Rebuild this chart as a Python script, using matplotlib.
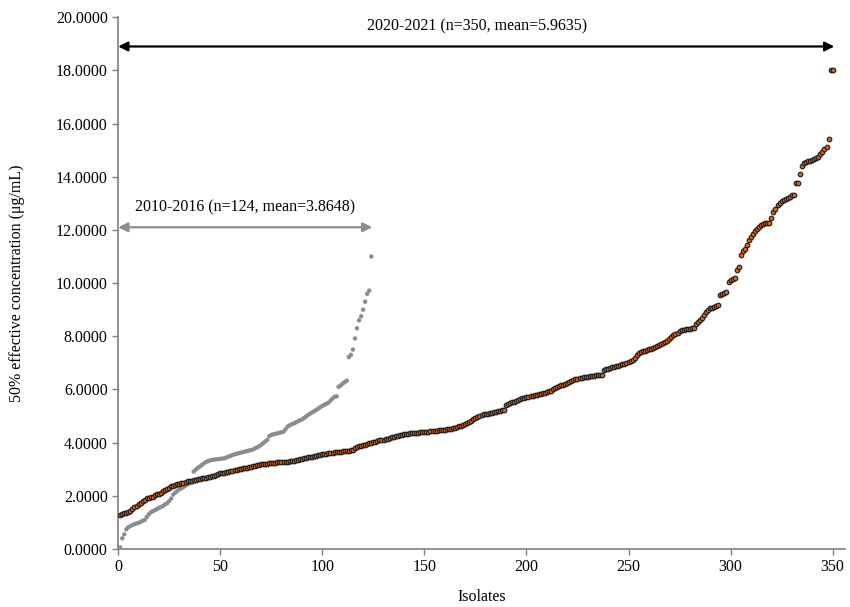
import numpy as np
import matplotlib
matplotlib.use("Agg")
import matplotlib.pyplot as plt
from matplotlib.ticker import FormatStrFormatter

# EC50 values, sorted
ec50_2010_2016 = [
    0.06, 0.40, 0.55, 0.74, 0.82, 0.86, 0.90, 0.94, 0.96, 0.98,
    1.02, 1.06, 1.09, 1.20, 1.30, 1.38, 1.42, 1.46, 1.50, 1.55,
    1.58, 1.62, 1.68, 1.72, 1.80, 1.90, 2.05, 2.12, 2.18, 2.25,
    2.28, 2.33, 2.38, 2.42, 2.47, 2.52, 2.91, 2.98, 3.05, 3.10,
    3.16, 3.22, 3.27, 3.30, 3.33, 3.35, 3.36, 3.37, 3.38, 3.39,
    3.40, 3.41, 3.44, 3.47, 3.50, 3.53, 3.56, 3.58, 3.60, 3.62,
    3.64, 3.66, 3.68, 3.70, 3.72, 3.74, 3.78, 3.82, 3.86, 3.92,
    3.97, 4.04, 4.10, 4.24, 4.29, 4.31, 4.33, 4.35, 4.37, 4.39,
    4.41, 4.50, 4.60, 4.65, 4.69, 4.72, 4.76, 4.80, 4.84, 4.87,
    4.92, 4.98, 5.04, 5.09, 5.13, 5.18, 5.23, 5.28, 5.33, 5.38,
    5.42, 5.46, 5.50, 5.58, 5.66, 5.72, 5.74, 6.10, 6.15, 6.22,
    6.28, 6.33, 7.22, 7.30, 7.50, 7.92, 8.30, 8.60, 8.75, 9.00,
    9.30, 9.60, 9.72, 11.00,
]

ec50_2020_2021 = [
    1.28, 1.32, 1.34, 1.36, 1.40, 1.44, 1.50, 1.56, 1.62, 1.68,
    1.74, 1.80, 1.86, 1.90, 1.93, 1.95, 1.97, 2.02, 2.05, 2.08,
    2.12, 2.17, 2.22, 2.27, 2.31, 2.35, 2.38, 2.41, 2.44, 2.46,
    2.48, 2.50, 2.52, 2.54, 2.56, 2.57, 2.58, 2.60, 2.62, 2.64,
    2.66, 2.67, 2.68, 2.70, 2.71, 2.73, 2.74, 2.78, 2.82, 2.84,
    2.85, 2.86, 2.88, 2.90, 2.92, 2.94, 2.96, 2.98, 3.00, 3.02,
    3.03, 3.05, 3.06, 3.08, 3.09, 3.11, 3.13, 3.15, 3.17, 3.18,
    3.19, 3.20, 3.21, 3.22, 3.23, 3.24, 3.25, 3.26, 3.26, 3.27,
    3.28, 3.28, 3.29, 3.30, 3.31, 3.32, 3.34, 3.36, 3.38, 3.40,
    3.42, 3.44, 3.45, 3.46, 3.47, 3.48, 3.50, 3.52, 3.54, 3.56,
    3.57, 3.58, 3.60, 3.61, 3.62, 3.63, 3.64, 3.65, 3.66, 3.67,
    3.68, 3.69, 3.70, 3.72, 3.74, 3.78, 3.84, 3.86, 3.88, 3.90,
    3.92, 3.95, 3.98, 4.00, 4.02, 4.04, 4.06, 4.08, 4.10, 4.11,
    4.12, 4.14, 4.17, 4.20, 4.22, 4.24, 4.26, 4.28, 4.30, 4.32,
    4.33, 4.34, 4.35, 4.36, 4.37, 4.38, 4.38, 4.39, 4.40, 4.40,
    4.41, 4.41, 4.42, 4.43, 4.44, 4.45, 4.46, 4.47, 4.48, 4.49,
    4.50, 4.52, 4.53, 4.54, 4.56, 4.58, 4.61, 4.64, 4.67, 4.70,
    4.74, 4.78, 4.82, 4.87, 4.92, 4.97, 5.02, 5.05, 5.06, 5.07,
    5.08, 5.10, 5.12, 5.14, 5.16, 5.18, 5.20, 5.23, 5.24, 5.42,
    5.45, 5.48, 5.51, 5.54, 5.57, 5.60, 5.63, 5.66, 5.68, 5.70,
    5.72, 5.74, 5.76, 5.78, 5.80, 5.82, 5.84, 5.86, 5.88, 5.90,
    5.93, 5.96, 6.00, 6.04, 6.08, 6.12, 6.15, 6.18, 6.22, 6.26,
    6.29, 6.32, 6.35, 6.38, 6.40, 6.42, 6.44, 6.46, 6.47, 6.48,
    6.50, 6.51, 6.52, 6.53, 6.54, 6.55, 6.56, 6.74, 6.76, 6.78,
    6.80, 6.83, 6.86, 6.88, 6.90, 6.92, 6.94, 6.96, 6.98, 7.02,
    7.06, 7.10, 7.20, 7.30, 7.36, 7.40, 7.43, 7.46, 7.49, 7.52,
    7.54, 7.57, 7.60, 7.64, 7.67, 7.72, 7.76, 7.80, 7.84, 7.88,
    7.96, 8.04, 8.08, 8.14, 8.20, 8.23, 8.25, 8.26, 8.27, 8.29,
    8.30, 8.32, 8.48, 8.55, 8.61, 8.70, 8.80, 8.90, 8.98, 9.05,
    9.08, 9.12, 9.15, 9.17, 9.55, 9.60, 9.64, 9.67, 10.05, 10.10,
    10.15, 10.18, 10.51, 10.60, 11.05, 11.20, 11.30, 11.45, 11.62, 11.75,
    11.84, 11.96, 12.05, 12.12, 12.20, 12.24, 12.25, 12.26, 12.27, 12.43,
    12.68, 12.80, 12.95, 13.00, 13.08, 13.12, 13.15, 13.20, 13.25, 13.30,
    13.30, 13.75, 13.75, 14.10, 14.40, 14.50, 14.56, 14.58, 14.60, 14.62,
    14.66, 14.70, 14.75, 14.85, 14.94, 15.05, 15.13, 15.41, 18.00, 18.00,
]

label_old = "2010-2016 (n=124, mean=3.8648)"
label_new = "2020-2021 (n=350, mean=5.9635)"

plt.rcParams['font.family'] = ['Liberation Serif', 'DejaVu Serif']

fig = plt.figure(figsize=(8.5, 6.07), dpi=100)
ax = fig.add_axes([0.139, 0.0956, 0.855, 0.876])

x_old = np.arange(1, len(ec50_2010_2016) + 1)
x_new = np.arange(1, len(ec50_2020_2021) + 1)

ax.scatter(x_old, ec50_2010_2016, s=10, color='#8c8c8c', edgecolors='none', zorder=3)
ax.scatter(x_new, ec50_2020_2021, s=11, color='#d8661c', edgecolors='#1a1a1a',
           linewidths=0.8, zorder=4)

# range arrows
ax.annotate('', xy=(0, 12.1), xytext=(len(ec50_2010_2016) + 0.5, 12.1),
            arrowprops=dict(arrowstyle='<|-|>', color='#8c8c8c', lw=1.6,
                            mutation_scale=14, shrinkA=0, shrinkB=0))
ax.text(62, 12.55, label_old, ha='center', va='bottom', fontsize=11.5)

ax.annotate('', xy=(0, 18.9), xytext=(len(ec50_2020_2021) + 0.8, 18.9),
            arrowprops=dict(arrowstyle='<|-|>', color='black', lw=1.6,
                            mutation_scale=14, shrinkA=0, shrinkB=0))
ax.text(176, 19.35, label_new, ha='center', va='bottom', fontsize=11.5)

ax.set_xlim(0, 356)
ax.set_ylim(0, 20)
ax.set_xticks(np.arange(0, 351, 50))
ax.set_yticks(np.arange(0, 20.1, 2))
ax.yaxis.set_major_formatter(FormatStrFormatter('%.4f'))

for side in ['top', 'right']:
    ax.spines[side].set_visible(False)
for side in ['left', 'bottom']:
    ax.spines[side].set_color('#7f7f7f')
    ax.spines[side].set_linewidth(1.2)
ax.tick_params(axis='both', direction='out', length=4, width=1, color='#7f7f7f',
               labelsize=11.5, labelcolor='black')

ax.set_xlabel('Isolates', fontsize=11.5, labelpad=10)
ax.set_ylabel('50% effective concentration (\u03bcg/mL)', fontsize=11.5, labelpad=22)

fig.savefig('out.png', dpi=100)
